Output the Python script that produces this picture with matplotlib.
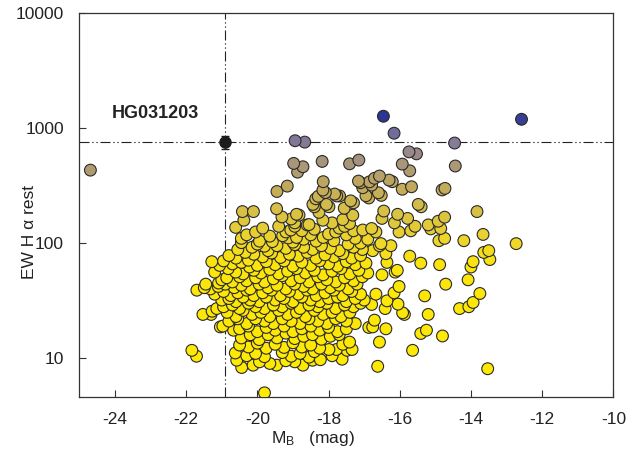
"""
  EW(H alpha, rest) vs absolute B magnitude for the host galaxy sample, HG031203 marked.
"""

import numpy as np
import matplotlib
matplotlib.use('Agg')
import matplotlib.pyplot as plt
from matplotlib.colors import LinearSegmentedColormap, Normalize
from matplotlib.ticker import NullLocator

plt.rcParams['font.family'] = ['Liberation Sans', 'DejaVu Sans']
plt.rcParams['mathtext.fontset'] = 'custom'
plt.rcParams['mathtext.rm'] = 'Liberation Sans'
plt.rcParams['mathtext.it'] = 'Liberation Sans'

################################################################################
# Data.                                                  #
################################################################################

# Sparse points, upper envelope and outskirts of the cloud.
mb_sparse = [-24.69, -16.46, -12.58, -16.16, -18.94, -18.67, -14.46, -15.74, -15.53, -18.98,
             -18.72, -18.87, -18.18, -17.41, -17.15, -15.93, -15.72, -14.44, -18.15, -19.45,
             -19.16, -18.09, -17.10, -17.04, -16.79, -16.71, -16.57, -16.21, -15.93, -15.67,
             -14.81, -14.73, -18.36, -18.29, -17.77, -17.69, -17.30, -16.87, -16.52, -15.40,
             -19.46, -18.40, -20.42, -20.11, -13.83, -17.56, -16.45, -18.16, -17.83, -17.38,
             -17.16, -16.85, -16.30, -16.95, -16.60, -16.50, -16.06, -16.15, -16.02, -18.44,
             -18.06, -17.99, -17.32, -17.41, -18.16, -18.27, -18.83, -18.60, -16.53, -16.79,
             -16.67, -17.04, -16.90, -16.57, -16.25, -16.39, -16.76, -16.13, -16.36, -16.50,
             -15.48, -15.78, -15.69, -15.57, -15.20, -15.13, -14.92, -14.74, -14.85, -14.74,
             -14.90, -14.20, -13.66, -12.73, -13.64, -13.50, -13.47, -13.94, -14.00, -15.72,
             -15.41, -14.88, -14.08, -14.71, -13.53, -15.64, -15.41, -15.25, -14.80, -15.30,
             -15.20, -15.87, -14.32, -14.06, -13.94, -13.75, -16.62, -16.57, -16.76, -16.87,
             -16.71, -16.39, -17.62, -18.23, -18.72, -17.99, -17.78, -17.48, -17.34, -17.41,
             -16.79, -16.67, -16.41, -16.36, -16.16, -16.02, -15.92, -16.05, -21.70, -21.49,
             -21.32, -21.09, -21.53, -21.27, -21.14, -21.04, -20.97, -21.84, -21.71, -20.58,
             -20.44, -19.80, -20.67, -20.62, -20.12, -19.94, -19.65, -19.46, -19.31, -19.05,
             -20.38, -20.61, -20.45, -20.15, -19.94, -19.80, -19.65, -19.58, -19.29, -19.13,
             -19.06, -18.90, -20.34, -21.28, -21.06, -20.82, -20.61, -20.86, -21.45, -20.22,
             -16.07, -18.95, -18.75, -18.50, -18.90, -18.35, -18.00, -17.70, -17.85, -17.50,
             -17.25, -17.45, -17.10, -17.60, -17.90]
ew_sparse = [431, 1267, 1192, 902, 776, 755, 741, 621, 597, 493,
             461, 414, 513, 489, 527, 486, 425, 468, 342, 281,
             313, 275, 335, 303, 319, 366, 383, 342, 294, 309,
             290, 299, 243, 255, 257, 257, 224, 247, 260, 207,
             199, 207, 188, 188, 188, 201, 190, 289, 267, 233,
             346, 341, 353, 258, 274, 164, 178, 150, 125, 217,
             217, 207, 175, 148, 158, 185, 175, 144, 99, 134,
             125, 130, 108, 95, 95, 81, 86, 56, 68, 53,
             217, 164, 128, 140, 144, 133, 155, 168, 134, 110,
             105, 105, 119, 99, 83, 86, 72, 69, 62, 77,
             67, 65, 48, 44, 8.1, 11.7, 16.4, 17.5, 15.6, 34.8,
             24, 24, 27, 28, 30.5, 36.5, 8.5, 13.8, 18.7, 18.5,
             21.4, 18, 9.8, 9.7, 8.7, 11.9, 11.9, 11.7, 11.9, 13.8,
             29.3, 36, 27, 31.5, 37, 42, 24.8, 29.5, 39, 41,
             40, 45, 24, 25.6, 27, 18.7, 19, 11.7, 10.4, 9.6,
             8.3, 5.0, 17.5, 11.1, 8.7, 9.3, 9.0, 8.7, 169, 162,
             158, 137, 101, 92, 104, 94, 115, 103, 116, 111,
             130, 178, 83, 69, 64, 60, 56, 50, 44, 62,
             58, 150, 128, 118, 112, 104, 120, 135, 105, 118,
             110, 98, 100, 160, 150]

# Dense core of the cloud.
mb_core = [-20.55, -20.00, -19.70, -19.45, -19.20, -18.95, -18.70, -18.45, -18.20, -17.95, -17.70, -17.30, -17.05,
           -20.80, -20.60, -20.10, -19.85, -19.60, -19.35, -19.10, -18.85, -18.60, -18.35, -18.10, -17.85, -17.60, -17.35, -17.10,
           -20.95, -20.70, -20.45, -20.25, -20.00, -19.75, -19.50, -19.25, -19.00, -18.75, -18.50, -18.25, -18.00, -17.75, -17.50, -17.25, -16.95,
           -21.20, -20.40, -20.10, -19.90, -19.65, -19.40, -19.15, -18.90, -18.65, -18.40, -18.15, -17.90, -17.65, -17.40, -17.15, -16.90,
           -21.00, -20.70, -20.50, -20.30, -20.05, -19.80, -19.55, -19.30, -19.05, -18.80, -18.55, -18.30, -18.05, -17.80, -17.55, -17.30, -17.05,
           -21.10, -20.90, -20.65, -20.45, -20.20, -19.95, -19.70, -19.45, -19.20, -18.95, -18.70, -18.45, -18.20, -17.95, -17.70, -17.45, -17.20,
           -21.20, -20.95, -20.75, -20.55, -20.30, -20.10, -19.85, -19.60, -19.35, -19.10, -18.85, -18.60, -18.35, -18.10, -17.85, -17.60, -17.35, -17.10,
           -21.00, -20.80, -20.60, -20.40, -20.20, -19.95, -19.75, -19.50, -19.25, -19.00, -18.75, -18.50, -18.25, -18.00, -17.75, -17.50, -17.25, -17.00,
           -20.95, -20.70, -20.50, -20.25, -20.05, -19.80, -19.55, -19.30, -19.05, -18.80, -18.55, -18.30, -18.05, -17.80, -17.55, -17.30, -17.10,
           -21.30, -20.85, -20.60, -20.40, -20.15, -19.90, -19.65, -19.40, -19.15, -18.90, -18.65, -18.40, -18.15, -17.90, -17.65, -17.40,
           -20.80, -20.55, -20.30, -20.05, -19.80, -19.55, -19.30, -19.05, -18.80, -18.55, -18.30, -18.05, -17.80, -17.50, -17.25,
           -20.50, -20.25, -20.00, -19.75, -19.50, -19.25, -19.00, -18.75, -18.50, -18.25, -18.00, -17.75, -17.50,
           -20.45, -20.20, -19.95, -19.70, -19.45, -19.20, -18.95, -18.70, -18.45, -18.20, -17.95, -17.70,
           -20.50, -20.25, -20.00, -19.75, -19.50, -19.25, -19.00, -18.75, -18.50, -18.25, -17.60,
           -20.30, -20.05, -19.80, -19.30, -19.05, -18.80, -18.55, -18.40, -17.90,
           -19.20, -18.95, -18.45,
           -20.30, -20.05, -19.85, -19.40, -19.20, -18.95, -18.70, -18.40, -18.15, -17.80, -17.55, -17.30, -20.45, -19.00, -18.55]
ew_core = [88, 98, 86, 95, 90, 97, 92, 88, 95, 90, 86, 92, 88,
           78, 74, 80, 76, 82, 75, 80, 77, 83, 74, 79, 76, 81, 74, 78,
           70, 66, 68, 71, 64, 69, 65, 70, 63, 68, 64, 70, 66, 63, 69, 65, 67,
           56, 54, 58, 55, 59, 54, 57, 60, 55, 58, 53, 57, 60, 54, 58, 55,
           48, 46, 51, 47, 50, 46, 49, 52, 47, 50, 46, 51, 48, 46, 50, 47, 51,
           42, 44, 41, 43, 40, 44, 41, 43, 40, 44, 42, 40, 44, 41, 43, 40, 44,
           36, 38, 35, 37, 39, 35, 37, 39, 35, 38, 36, 39, 35, 37, 39, 35, 38, 36,
           32, 33, 31, 34, 32, 31, 34, 32, 33, 31, 34, 32, 31, 33, 34, 31, 33, 32,
           28, 29, 27, 30, 28, 27, 29, 28, 30, 27, 29, 28, 30, 27, 29, 28, 30,
           24, 25, 23, 26, 24, 25, 23, 26, 24, 25, 23, 26, 24, 25, 23, 25,
           21, 22, 20, 22, 21, 20, 22, 21, 20, 22, 21, 20, 22, 21, 20,
           18, 19, 17, 18.5, 17.5, 19, 17, 18, 19, 17.5, 18.5, 17, 18,
           15, 16, 14.5, 16, 15, 16.5, 14.8, 15.5, 16, 14.6, 15.5, 16,
           13, 12.5, 13.5, 12.2, 13.2, 12.4, 13.6, 12.5, 13, 12.2, 13.2,
           10.5, 11, 10.3, 11.2, 10.4, 11, 10.2, 11.4, 10.5,
           9.5, 9.3, 9.6,
           118, 125, 135, 140, 125, 140, 108, 132, 112, 125, 140, 128, 110, 102, 145]

# HG031203 and the reference lines through it.
mb_hg, ew_hg = -20.92, 750
ew_hg_err = [[95], [110]]
mb_line, ew_line = -20.92, 750

xticks = [-24, -22, -20, -18, -16, -14, -12, -10]
yticks = [10, 100, 1000, 10000]
ytick_labels = ['10', '100', '1000', '10000']

################################################################################
# Plot.                                                                        #
################################################################################

mb = np.array(mb_sparse + mb_core)
ew = np.array(ew_sparse + ew_core)
order = np.argsort(ew)
mb, ew = mb[order], ew[order]

cmap = LinearSegmentedColormap.from_list('ew', [
    (0.000, '#FFEB00'),
    (0.462, '#FCE50A'),
    (0.538, '#F0D826'),
    (0.654, '#D6BE48'),
    (0.731, '#C0A85C'),
    (0.808, '#A8957A'),
    (0.865, '#8E8096'),
    (0.912, '#6B6A9C'),
    (0.962, '#2C3592'),
    (1.000, '#22308C')])
norm = Normalize(vmin=0.6, vmax=3.2)

fig = plt.figure(figsize=(6.26, 4.58), dpi=100)
ax = fig.add_axes([0.1268, 0.1332, 0.8530, 0.8384])

dashdotdot = (0, (9, 2.5, 1.2, 2.5, 1.2, 2.5))
ax.axhline(ew_line, color='#222222', lw=0.8, ls=dashdotdot, zorder=1)
ax.axvline(mb_line, color='#222222', lw=0.8, ls=dashdotdot, zorder=1)

ax.scatter(mb, ew, s=72, c=cmap(norm(np.log10(ew))), edgecolors='#2a2a2a',
           linewidths=0.8, zorder=3)
ax.errorbar([mb_hg], [ew_hg], yerr=ew_hg_err, fmt='o', ms=8, mfc='#1c1c1c',
            mec='#1c1c1c', ecolor='#1c1c1c', elinewidth=1, capsize=3, zorder=4)
ax.text(-24.08, 1350, 'HG031203', fontsize=13, fontweight='bold', color='#222222',
        va='center', ha='left')

ax.set_yscale('log')
ax.set_xlim(-25, -10)
ax.set_ylim(4.6, 10000)
ax.set_xticks(xticks)
ax.set_xticklabels([str(t) for t in xticks])
ax.set_yticks(yticks)
ax.set_yticklabels(ytick_labels)
ax.yaxis.set_minor_locator(NullLocator())
ax.xaxis.set_minor_locator(NullLocator())
ax.tick_params(direction='in', length=5, width=0.8, labelsize=12.5, pad=11,
               colors='#333333', labelcolor='#222222')
for s in ax.spines.values():
    s.set_color('#333333')
    s.set_linewidth(0.9)

ax.text(0.437, -0.108, r'M$_{\rm B}$   (mag)', transform=ax.transAxes, fontsize=12.5,
        ha='center', va='center', color='#222222')
ax.text(-0.094, 0.43, 'EW H α rest', transform=ax.transAxes, fontsize=12.5,
        rotation=90, ha='center', va='center', color='#222222')

fig.savefig('out.png', dpi=100)
plt.close()
